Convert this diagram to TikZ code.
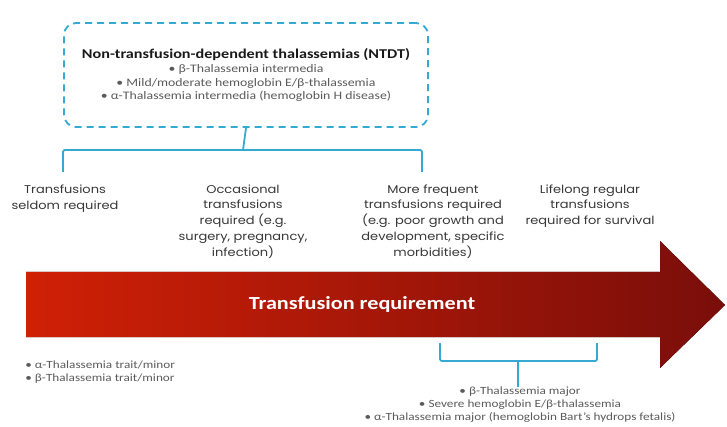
\documentclass[tikz,border=0pt]{standalone}
\usepackage{fontspec}
\setmainfont{Carlito}
\newfontfamily\widecal[FakeStretch=1.2]{Carlito}
\newfontfamily\gothic[FakeStretch=1.15]{Poppins}
\usetikzlibrary{positioning, calc}

\definecolor{brk}{RGB}{52,170,210}
\definecolor{txtgray}{RGB}{55,55,55}
\definecolor{bulgray}{RGB}{90,90,90}
\definecolor{titlegray}{RGB}{25,25,25}
\definecolor{arrowleft}{RGB}{208,32,6}
\definecolor{arrowright}{RGB}{122,14,10}

\newcommand{\bul}{\textbullet\ }

\begin{document}
\begin{tikzpicture}[
    x=1pt, y=-1pt,
    ntdtbox/.style={draw=brk, line width=1.8pt, dash pattern=on 7pt off 5pt, rounded corners=12pt, minimum width=364pt, minimum height=104pt, align=center, inner sep=0pt},
    bracket/.style={draw=brk, line width=1.8pt, rounded corners=2pt},
    coltext/.style={align=center, text=txtgray, font=\gothic\fontsize{11.3}{15.8}\selectfont, inner sep=0pt},
    bullets/.style={text=bulgray, inner sep=0pt, font=\widecal\fontsize{11}{13}\selectfont},
    thick
  ]
  \useasboundingbox (0,0) rectangle (727,427);

  % NTDT box
  \node[ntdtbox, text=bulgray, font=\widecal\fontsize{11.5}{13.6}\selectfont] (ntdt) at (246,75)
    {\fontsize{13.5}{16}\selectfont\bfseries\color{titlegray}Non-transfusion-dependent thalassemias (NTDT)\\[1pt]
    \bul β-Thalassemia intermedia\\
    \bul Mild/moderate hemoglobin E/β-thalassemia\\
    \bul α-Thalassemia intermedia (hemoglobin H disease)};

  % Upper bracket
  \coordinate (upmid) at (243,150);
  \coordinate (upL) at (63,172);
  \coordinate (upR) at (422,172);
  \draw[bracket] (ntdt.south) -- (upmid);
  \draw[bracket] (upL) |- (upmid) -| (upR);

  % Column labels
  \node[coltext] (seldom) at (65,199) {Transfusions\\seldom required};
  \node[coltext] (occasional) at (243,221.5) {Occasional\\transfusions\\required (e.g.\\surgery, pregnancy,\\infection)};
  \node[coltext] (frequent) at (433,221.5) {More frequent\\transfusions required\\(e.g. poor growth and\\development, specific\\morbidities)};
  \node[coltext] (lifelong) at (590,206) {Lifelong regular\\transfusions\\required for survival};

  % Arrow
  \fill[left color=arrowleft, right color=arrowright]
    (26,272) -- (660,272) -- (660,241) -- (725,305) -- (660,368) -- (660,337) -- (26,337) -- cycle;
  \node[text=white, font=\widecal\fontsize{18.5}{20}\selectfont\bfseries] (need) at (362,304) {Transfusion requirement};

  % Lower bracket
  \coordinate (loL) at (440,343);
  \coordinate (loR) at (597,343);
  \coordinate (lomid) at (518,361);
  \node[bullets, align=center] (majors) at (520,405)
    {\bul β-Thalassemia major\\
    \bul Severe hemoglobin E/β-thalassemia\\
    \bul α-Thalassemia major (hemoglobin Bart’s hydrops fetalis)};
  \draw[bracket] (loL) |- (lomid) -| (loR);
  \draw[bracket] (lomid) -- (majors.north -| lomid);

  % Minor forms
  \node[bullets, align=left, anchor=west] (minors) at (25,372.5)
    {\bul α-Thalassemia trait/minor\\
    \bul β-Thalassemia trait/minor};
\end{tikzpicture}
\end{document}
